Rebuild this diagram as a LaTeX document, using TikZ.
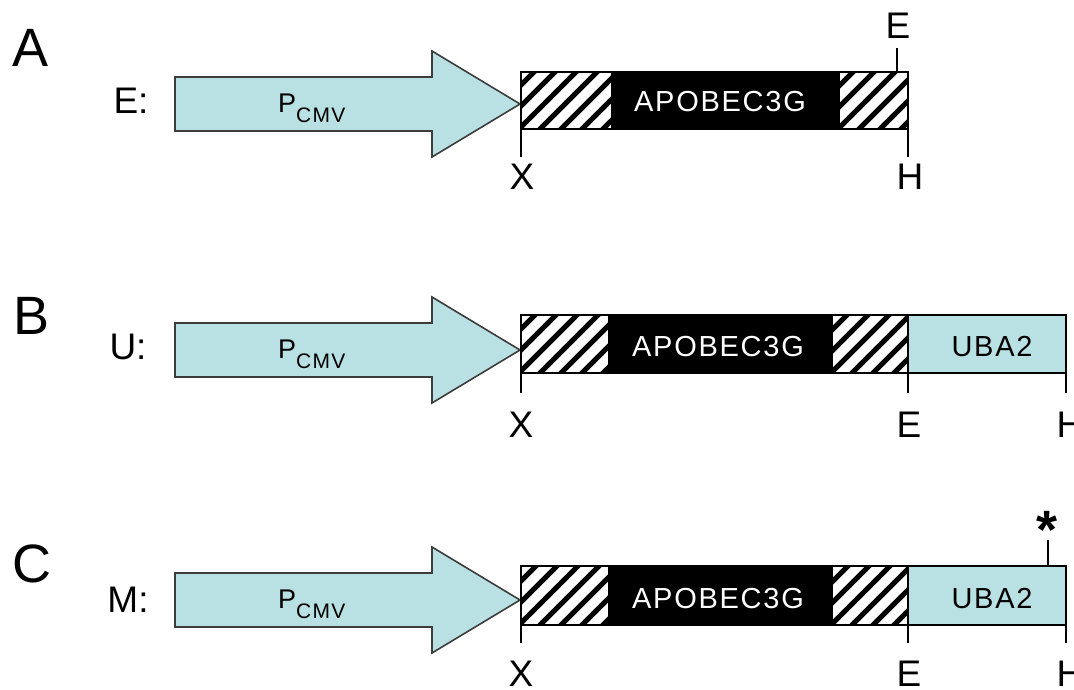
\documentclass[tikz,border=0pt]{standalone}
\usepackage{fontspec}
\setmainfont{Liberation Sans}
\newfontfamily\spaced[LetterSpace=6]{Liberation Sans}
\definecolor{cyanfill}{HTML}{B9E0E3}
\definecolor{edgegray}{HTML}{3C3C3C}
\newcommand\hatchfill[4]{%
  \begin{scope}
    \clip (#1,#2) rectangle (#3,#4);
    \foreach \k in {0,...,13}{\draw[line width=5pt] ({#1-70+\k*21},{#4+5}) -- ++(90,-90);}
  \end{scope}}
\newcommand\promoter[2]{%
  \draw[prom] (175,{#1-27}) -- (432,{#1-27}) -- (432,{#1-53}) -- (520,#1)
     -- (432,{#1+53}) -- (432,{#1+27}) -- (175,{#1+27}) -- cycle;
  \node[ptext, anchor=base west] (#2) at (278,{#1+8}) {P\raisebox{-10pt}{\fontsize{21}{21}\selectfont CMV}};}
\begin{document}
\begin{tikzpicture}[x=1pt,y=-1pt,
  prom/.style={fill=cyanfill, draw=edgegray, line width=1.6pt, line join=miter},
  ptext/.style={inner sep=0pt, font=\spaced\fontsize{27}{27}\selectfont},
  outline/.style={draw=black, line width=2pt, inner sep=0pt, outer sep=0pt, anchor=north west},
  uba/.style={fill=cyanfill, draw=black, line width=2pt, inner sep=0pt, outer sep=0pt, anchor=north west},
  apo/.style={text=white, inner sep=0pt, font=\spaced\fontsize{29}{29}\selectfont},
  ubatext/.style={text=black, inner sep=0pt, font=\spaced\fontsize{29}{29}\selectfont},
  site/.style={inner sep=0pt, font=\fontsize{37}{37}\selectfont},
  panel/.style={inner sep=0pt, font=\fontsize{54}{54}\selectfont},
  tick/.style={line width=2pt}]
\useasboundingbox (0,0) rectangle (1074,689);
\fill[white] (0,0) rectangle (1074,689);

% ---------------- Panel A ----------------
\node[panel] (A) at (31,48) {A};
\node[site] (Elab) at (131,101) {E:};
\promoter{104}{pA}
\hatchfill{521}{72}{611}{129}
\fill (611,72) rectangle (840,129);
\hatchfill{840}{72}{908}{129}
\node[outline, minimum width=387pt, minimum height=57pt] (geneA) at (521,72) {};
\node[apo] (apoA) at (720,102) {APOBEC3G};
\node[site] (xA) at (522,177) {X};
\node[site] (hA) at (910,177) {H};
\node[site] (eA) at (898,26) {E};
\coordinate (eAtick) at (897,72);
\draw[tick] (geneA.south west) -- ++(0,28);
\draw[tick] (geneA.south east) -- ++(0,28);
\draw[tick] (eAtick) -- ++(0,-24);

% ---------------- Panel B ----------------
\node[panel] (B) at (32,316) {B};
\node[site] (Ulab) at (128,347) {U:};
\promoter{350}{pB}
\hatchfill{521}{315}{608}{373}
\fill (608,315) rectangle (833,373);
\hatchfill{833}{315}{908}{373}
\node[outline, minimum width=387pt, minimum height=58pt] (geneB) at (521,315) {};
\node[uba, minimum width=158pt, minimum height=58pt] (ubaB) at (908,315) {};
\node[apo] (apoB) at (718,347) {APOBEC3G};
\node[ubatext] (ubaBt) at (992,347) {UBA2};
\draw[tick] (geneB.south west) -- ++(0,20);
\draw[tick] (geneB.south east) -- ++(0,20);
\draw[tick] (ubaB.south east) -- ++(0,20);
\node[site] (xB) at (521,425) {X};
\node[site] (eB) at (909,425) {E};
\node[site] (hB) at (1070,425) {H};

% ---------------- Panel C ----------------
\node[panel] (C) at (32,564) {C};
\node[site] (Mlab) at (128,600) {M:};
\promoter{600}{pC}
\hatchfill{521}{566}{608}{625}
\fill (608,566) rectangle (833,625);
\hatchfill{833}{566}{908}{625}
\node[outline, minimum width=387pt, minimum height=59pt] (geneC) at (521,566) {};
\node[uba, minimum width=158pt, minimum height=59pt] (ubaC) at (908,566) {};
\node[apo] (apoC) at (718,599) {APOBEC3G};
\node[ubatext] (ubaCt) at (992,599) {UBA2};
\draw[tick] (geneC.south west) -- ++(0,18);
\draw[tick] (geneC.south east) -- ++(0,18);
\draw[tick] (ubaC.south east) -- ++(0,18);
\coordinate (mut) at (1048,566);
\draw[tick] (mut) -- ++(0,-26);
\node[inner sep=0pt, anchor=base, font=\bfseries\fontsize{54}{54}\selectfont] (star) at (1047,548) {*};
\node[site] (xC) at (521,674) {X};
\node[site] (eC) at (909,674) {E};
\node[site] (hC) at (1070,674) {H};
\end{tikzpicture}
\end{document}
